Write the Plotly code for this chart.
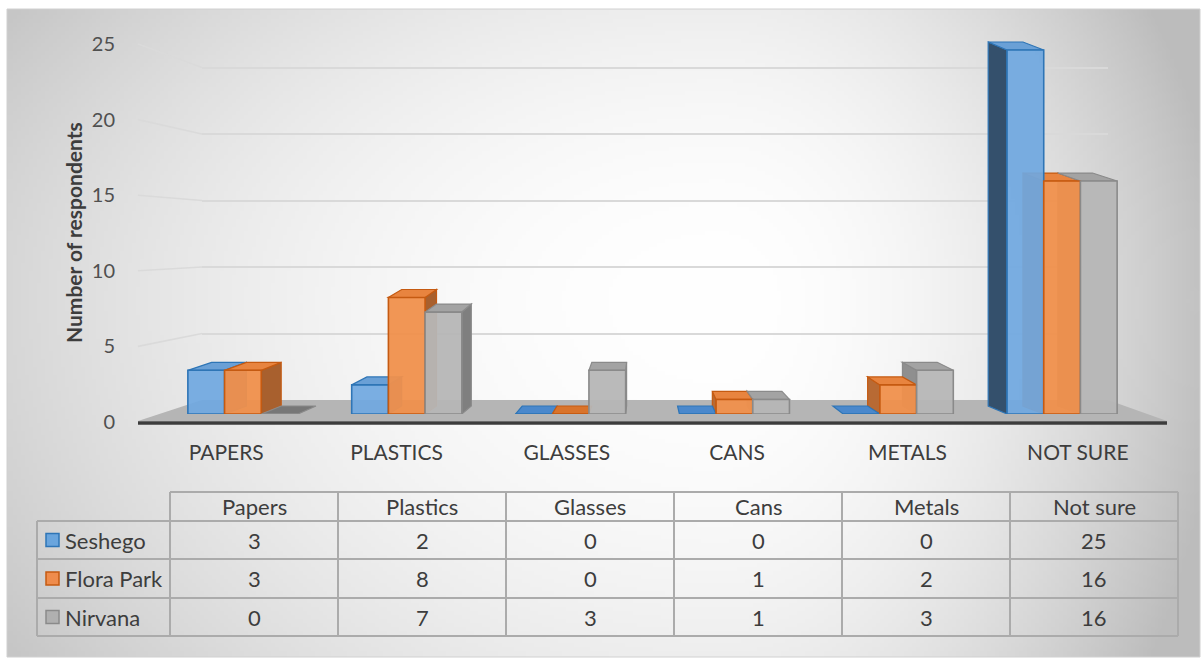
import base64, struct, zlib
import numpy as np
import plotly.graph_objects as go

# ---------------- data ----------------
categories = ["PAPERS", "PLASTICS", "GLASSES", "CANS", "METALS", "NOT SURE"]
table_headers = ["Papers", "Plastics", "Glasses", "Cans", "Metals", "Not sure"]
series_names = ["Seshego", "Flora Park", "Nirvana"]
seshego = [3, 2, 0, 0, 0, 25]
flora_park = [3, 8, 0, 1, 2, 16]
nirvana = [0, 7, 3, 1, 3, 16]
y_tick_values = [0, 5, 10, 15, 20, 25]
y_title = "Number of respondents"

series_values = [seshego, flora_park, nirvana]

# ---------------- styles ----------------
W, H = 1204, 660
FONT = "Lato"
TXT = "#3d3d3d"
TICK_TXT = "#505050"

front_col = ["rgba(112,168,224,0.93)", "rgba(240,144,76,0.95)", "rgba(182,182,182,0.95)"]
edge_col = ["#2e75b6", "#c55a11", "#8a8a8a"]
top_col = ["#6aa0d6", "#e8843f", "#a3a3a3"]
side_r_col = ["#4a7fb5", "#a8602e", "#7f7f7f"]
side_l_col = ["#34506c", "#b86a34", "#8f8f8f"]
flat_col = ["#4a88cc", "#d9742c", "#777777"]
key_fill = ["#6aa5dd", "#ef8c4c", "#b0b0b0"]


def fx(p):
    return p / W


def fy(p):
    return 1 - p / H


# geometry of the three coordinate systems (pixels)
GRID_X, GRID_Y0, GRID_PPU, GRID_TOP = (202, 1108), 400, 13.3, 27
BAR_X, BAR_Y0, BAR_PPU, BAR_TOP = (161, 1144), 414, 14.56, 27.5
LBL_X, LBL_Y0, LBL_PPU, LBL_TOP = (141, 1163), 422, 15.12, 27

BAR_W = 0.224
OFFSETS = [-0.336, -0.112, 0.112]
VP, K, DY = 2.45, 0.052, 8 / BAR_PPU


def depth_dx(c):
    return -K * (c - VP)


# ---------------- background gradient ----------------
def png_gray(arr):
    h, w = arr.shape
    raw = b"".join(b"\x00" + arr[r].astype(np.uint8).tobytes() for r in range(h))

    def chunk(t, d):
        c = struct.pack(">I", len(d)) + t + d
        return c + struct.pack(">I", zlib.crc32(t + d) & 0xFFFFFFFF)

    ihdr = struct.pack(">IIBBBBB", w, h, 8, 0, 0, 0, 0)
    return (b"\x89PNG\r\n\x1a\n" + chunk(b"IHDR", ihdr)
            + chunk(b"IDAT", zlib.compress(raw, 9)) + chunk(b"IEND", b""))


gx0, gy0, gx1, gy1 = 7, 9, 1200, 657
gw, gh = 300, 162
xs = np.linspace(gx0, gx1, gw)
ys = np.linspace(gy0, gy1, gh)
X, Y = np.meshgrid(xs, ys)
cx, cy = 720, 300
rx = np.where(X < cx, 713.0, 392.0)
ry = np.where(Y < cy, 291.0, 357.0)
val = 255 - 40 * ((X - cx) / rx) ** 2 - 17 * ((Y - cy) / ry) ** 2
val = np.clip(val, 188, 255)
bg_uri = "data:image/png;base64," + base64.b64encode(png_gray(val)).decode()

fig = go.Figure()

# dummy traces so the grid and label subplots exist
fig.add_trace(go.Scatter(x=[0.5], y=[1], xaxis="x", yaxis="y", mode="markers",
                         marker=dict(opacity=0), hoverinfo="skip", showlegend=False))
fig.add_trace(go.Scatter(x=[0], y=[1], xaxis="x3", yaxis="y3", mode="markers",
                         marker=dict(opacity=0), hoverinfo="skip", showlegend=False))

# bars (front faces)
idx = list(range(len(categories)))
for i, (name, vals) in enumerate(zip(series_names, series_values)):
    fig.add_trace(go.Bar(
        x=idx, y=vals, name=name, width=BAR_W, offset=OFFSETS[i],
        marker=dict(color=front_col[i], line=dict(color=edge_col[i], width=1.6)),
        xaxis="x2", yaxis="y2", hovertext=categories, showlegend=False,
    ))

shapes = []

# background box
shapes.append(dict(type="rect", xref="paper", yref="paper", layer="below",
                   x0=fx(gx0), x1=fx(gx1), y0=fy(gy1), y1=fy(gy0),
                   line=dict(color="#d0d0d0", width=1), fillcolor="rgba(0,0,0,0)"))

# floor
fl = [(LBL_X[0] - 3, LBL_Y0 - 1), (GRID_X[0], GRID_Y0), (GRID_X[1], GRID_Y0), (LBL_X[1] + 4, LBL_Y0 - 1)]
path = "M " + " L ".join(f"{fx(a):.5f},{fy(b):.5f}" for a, b in fl) + " Z"
shapes.append(dict(type="path", xref="paper", yref="paper", layer="below", path=path,
                   fillcolor="#b5b5b5", line=dict(width=0)))
shapes.append(dict(type="line", xref="paper", yref="paper", layer="below",
                   x0=fx(LBL_X[0] - 3), x1=fx(LBL_X[1] + 4), y0=fy(LBL_Y0 + 1), y1=fy(LBL_Y0 + 1),
                   line=dict(color="#3c3c3c", width=3.5)))

# slanted parts of the gridlines (from tick level to the back wall)
for v in y_tick_values[1:]:
    shapes.append(dict(type="line", xref="paper", yref="paper", layer="below",
                       x0=fx(LBL_X[0] - 3), y0=fy(LBL_Y0 - LBL_PPU * v),
                       x1=fx(GRID_X[0]), y1=fy(GRID_Y0 - GRID_PPU * v),
                       line=dict(color="#dadada", width=1.6)))

# 3D side faces, then top faces
side_shapes, top_shapes = [], []
for c in idx:
    for i, vals in enumerate(series_values):
        v = vals[c]
        xl = c + OFFSETS[i]
        xr = xl + BAR_W
        dl, dr = depth_dx(xl), depth_dx(xr)
        if v > 0:
            if dr > 0:
                p = f"M {xr},{v} L {xr + dr},{v + DY} L {xr + dr},{DY} L {xr},0 Z"
                side_shapes.append(dict(type="path", xref="x2", yref="y2", layer="below", path=p,
                                        fillcolor=side_r_col[i], line=dict(color=edge_col[i], width=1.2)))
            elif dl < 0:
                p = f"M {xl},{v} L {xl + dl},{v + DY} L {xl + dl},{DY} L {xl},0 Z"
                side_shapes.append(dict(type="path", xref="x2", yref="y2", layer="below", path=p,
                                        fillcolor=side_l_col[i], line=dict(color=edge_col[i], width=1.2)))
        p = f"M {xl},{v} L {xr},{v} L {xr + dr},{v + DY} L {xl + dl},{v + DY} Z"
        top_shapes.append(dict(type="path", xref="x2", yref="y2", layer="below", path=p,
                               fillcolor=top_col[i] if v > 0 else flat_col[i],
                               line=dict(color=edge_col[i], width=1.2)))
shapes += side_shapes + top_shapes

# ---------------- data table ----------------
cols_x = [37, 170, 338, 506, 674, 842, 1010, 1178]
rows_y = [492, 521, 559, 598, 636]
LC = "#ababab"
for yv in rows_y:
    xa = cols_x[1] if yv == rows_y[0] else cols_x[0]
    shapes.append(dict(type="line", xref="paper", yref="paper", layer="above",
                       x0=fx(xa), x1=fx(cols_x[-1]), y0=fy(yv), y1=fy(yv),
                       line=dict(color=LC, width=2)))
for xv in cols_x:
    ya = rows_y[1] if xv == cols_x[0] else rows_y[0]
    shapes.append(dict(type="line", xref="paper", yref="paper", layer="above",
                       x0=fx(xv), x1=fx(xv), y0=fy(ya), y1=fy(rows_y[-1]),
                       line=dict(color=LC, width=2)))

TFS = 22
annotations = []
for j, h in enumerate(table_headers):
    annotations.append(dict(x=fx((cols_x[j + 1] + cols_x[j + 2]) / 2), y=fy((rows_y[0] + rows_y[1]) / 2),
                            xref="paper", yref="paper", text=h, showarrow=False,
                            xanchor="center", yanchor="middle",
                            font=dict(family=FONT, size=TFS, color=TXT)))
for i, (name, vals) in enumerate(zip(series_names, series_values)):
    yc = (rows_y[i + 1] + rows_y[i + 2]) / 2
    annotations.append(dict(x=fx(cols_x[0] + 26), y=fy(yc), xref="paper", yref="paper",
                            text=name, showarrow=False, xanchor="left", yanchor="middle",
                            font=dict(family=FONT, size=TFS, color=TXT)))
    shapes.append(dict(type="rect", xref="paper", yref="paper", layer="above",
                       x0=fx(cols_x[0] + 9), x1=fx(cols_x[0] + 22), y0=fy(yc + 6.5), y1=fy(yc - 6.5),
                       fillcolor=key_fill[i], line=dict(color=edge_col[i], width=1.5)))
    for j, v in enumerate(vals):
        annotations.append(dict(x=fx((cols_x[j + 1] + cols_x[j + 2]) / 2), y=fy(yc),
                                xref="paper", yref="paper", text=str(v), showarrow=False,
                                xanchor="center", yanchor="middle",
                                font=dict(family=FONT, size=TFS, color=TXT)))

# axis title
annotations.append(dict(x=fx(73), y=fy(233), xref="paper", yref="paper",
                        text=f"<b>{y_title}</b>", textangle=-90, showarrow=False,
                        xanchor="center", yanchor="middle",
                        font=dict(family=FONT, size=21, color=TXT)))

fig.update_layout(
    width=W, height=H, template="none",
    margin=dict(l=0, r=0, t=0, b=0),
    paper_bgcolor="white", plot_bgcolor="rgba(0,0,0,0)",
    showlegend=False, barmode="overlay",
    font=dict(family=FONT, color=TXT),
    images=[dict(source=bg_uri, xref="paper", yref="paper", x=fx(gx0), y=fy(gy0),
                 sizex=fx(gx1) - fx(gx0), sizey=fy(gy0) - fy(gy1), sizing="stretch",
                 xanchor="left", yanchor="top", layer="below")],
    # back wall gridlines
    xaxis=dict(domain=[fx(GRID_X[0]), fx(GRID_X[1])], range=[0, 1], visible=False,
               automargin=False, anchor="y"),
    yaxis=dict(domain=[fy(GRID_Y0), fy(GRID_Y0 - GRID_PPU * GRID_TOP)], range=[0, GRID_TOP],
               tickmode="array", tickvals=y_tick_values[1:], showticklabels=False, ticks="",
               showgrid=True, gridcolor="#d9d9d9", gridwidth=2, zeroline=False, showline=False,
               automargin=False, anchor="x"),
    # bars
    xaxis2=dict(domain=[fx(BAR_X[0]), fx(BAR_X[1])], range=[-0.5, len(categories) - 0.5],
                visible=False, automargin=False, anchor="y2"),
    yaxis2=dict(domain=[fy(BAR_Y0), fy(BAR_Y0 - BAR_PPU * BAR_TOP)], range=[0, BAR_TOP],
                visible=False, automargin=False, anchor="x2"),
    # labels
    xaxis3=dict(domain=[fx(LBL_X[0]), fx(LBL_X[1])], range=[-0.5, len(categories) - 0.5],
                tickmode="array", tickvals=idx, ticktext=categories,
                ticks="outside", ticklen=12, tickcolor="rgba(0,0,0,0)",
                tickfont=dict(family=FONT, size=21, color=TXT),
                showgrid=False, zeroline=False, showline=False, automargin=False, anchor="y3"),
    yaxis3=dict(domain=[fy(LBL_Y0), fy(LBL_Y0 - LBL_PPU * LBL_TOP)], range=[0, LBL_TOP],
                tickmode="array", tickvals=y_tick_values,
                ticks="outside", ticklen=21, tickcolor="rgba(0,0,0,0)",
                tickfont=dict(family=FONT, size=20, color=TICK_TXT),
                showgrid=False, zeroline=False, showline=False, automargin=False, anchor="x3"),
    shapes=shapes,
    annotations=annotations,
)

fig.write_html("out.html")
